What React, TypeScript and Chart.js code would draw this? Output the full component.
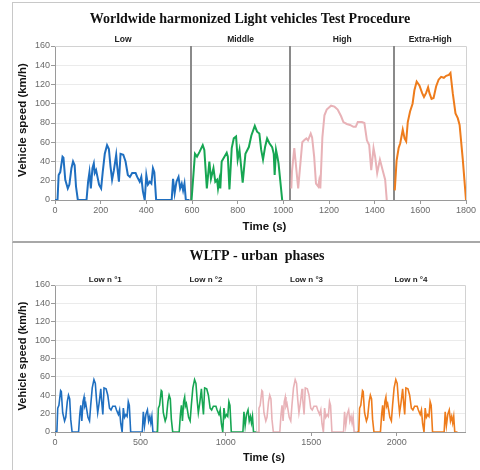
import React, { useEffect, useRef } from "react";
import { Chart, registerables } from "chart.js";

Chart.register(...registerables);

// ---- Data ----
const lowTimes = [0, 11, 16, 23, 33, 37, 45, 56, 63, 72, 79, 86, 92, 100, 138, 145, 151, 157, 164, 170, 174, 180, 186, 193, 202, 209, 218, 228, 236, 243, 250, 258, 268, 272, 280, 287, 299, 309, 319, 328, 338, 353, 360, 371, 378, 385, 393, 400, 407, 415, 422, 429, 435, 443, 511, 517, 524, 532, 541, 548, 555, 561, 567, 573, 589];
const lowSpeeds = [0, 0, 26, 29, 45, 44, 21, 12, 16, 33, 40, 36, 14, 0, 0, 19, 29, 12, 33, 38, 28, 31, 24, 16, 12, 29, 48, 57, 53, 35, 21, 31, 47, 36, 19, 48, 47, 40, 26, 24, 28, 28, 24, 19, 24, 9, 0, 26, 16, 19, 17, 33, 29, 0, 0, 22, 7, 19, 24, 12, 17, 10, 17, 0, 0];

const middleTimes = [598, 613, 622, 633, 647, 654, 665, 676, 683, 694, 702, 710, 714, 720, 724, 730, 742, 752, 757, 764, 774, 783, 793, 800, 808, 822, 834, 849, 860, 875, 885, 895, 903, 911, 920, 929, 939, 951, 958, 962, 968, 974, 979, 995];
const middleSpeeds = [0, 48, 45, 50, 57, 52, 12, 40, 22, 33, 19, 21, 12, 21, 12, 40, 45, 49, 45, 11, 54, 64, 66, 42, 52, 18, 48, 55, 67, 77, 71, 69, 52, 42, 55, 64, 59, 55, 48, 26, 52, 45, 38, 0];

const highTimes = [1035, 1038, 1048, 1065, 1083, 1091, 1101, 1108, 1120, 1126, 1135, 1143, 1153, 1157, 1162, 1171, 1180, 1190, 1209, 1224, 1238, 1253, 1263, 1278, 1292, 1307, 1317, 1326, 1344, 1355, 1366, 1376, 1385, 1395, 1402, 1411, 1423, 1435, 1446, 1453];
const highSpeeds = [12, 30, 54, 12, 60, 62, 64, 62, 69, 65, 45, 17, 14, 20, 12, 65, 88, 94, 98, 97, 94, 87, 81, 79, 78, 76, 76, 81, 81, 80, 62, 57, 31, 54, 45, 28, 42, 31, 21, 0];

const extraHighTimes = [1488, 1496, 1505, 1512, 1523, 1531, 1538, 1545, 1555, 1566, 1574, 1584, 1596, 1608, 1616, 1625, 1634, 1640, 1649, 1658, 1669, 1680, 1691, 1703, 1713, 1725, 1732, 1742, 1754, 1764, 1772, 1786, 1800];
const extraHighSpeeds = [10, 41, 54, 59, 73, 64, 61, 81, 92, 100, 114, 123, 119, 111, 107, 111, 117, 111, 105, 106, 118, 125, 128, 127, 129, 130, 132, 111, 90, 85, 78, 42, 0];

const wltpPhaseLabels = ["Low", "Middle", "High", "Extra-High"];
const wltpBoundaries = [596, 1030, 1486];
const wltpTimeTicks = [0, 200, 400, 600, 800, 1000, 1200, 1400, 1600, 1800];

const urbanPhaseLabels = ["Low n °1", "Low n °2", "Low n °3", "Low n °4"];
const lowPhaseDuration = 589;
const urbanRepeats = [0, 1, 2, 3];
const urbanBoundaries = [589, 1178, 1767];
const urbanTimeTicks = [0, 500, 1000, 1500, 2000];

const speedTicks = [0, 20, 40, 60, 80, 100, 120, 140, 160];

const phaseColors = ["#1f6fc0", "#16a652", "#e8b2b7", "#ee7c1c"];

const SANS = '"Liberation Sans", Arial, sans-serif';
const SERIF = '"Liberation Serif", "Times New Roman", serif';

function toPoints(times: number[], speeds: number[], shift = 0) {
  return times.map((t, i) => ({ x: t + shift, y: speeds[i] }));
}

type PanelOpts = {
  title: string;
  titleX: number;
  titleY: number;
  phaseLabels: string[];
  boundaries: number[];
  phaseLabelY: number;
  phaseFont: number;
  dividerColor: string;
  dividerWidth: number;
  xTitleY: number;
  yTitleX: number;
  yTitleY: number;
  axisTitleFont: number;
};

function panelPlugin(o: PanelOpts) {
  return {
    id: "panelDecor",
    beforeDatasetsDraw(chart: any) {
      const { ctx, chartArea: a } = chart;
      const x = chart.scales.x;
      ctx.save();
      ctx.strokeStyle = "#d2d2d2";
      ctx.lineWidth = 1;
      ctx.beginPath();
      ctx.moveTo(a.left, a.top + 0.5);
      ctx.lineTo(a.right + 0.5, a.top + 0.5);
      ctx.lineTo(a.right + 0.5, a.bottom);
      ctx.stroke();
      ctx.strokeStyle = o.dividerColor;
      ctx.lineWidth = o.dividerWidth;
      for (const b of o.boundaries) {
        const px = Math.round(x.getPixelForValue(b)) + (o.dividerWidth % 2 ? 0.5 : 0);
        ctx.beginPath();
        ctx.moveTo(px, a.top);
        ctx.lineTo(px, a.bottom);
        ctx.stroke();
      }
      ctx.restore();
    },
    afterDraw(chart: any) {
      const { ctx, chartArea: a } = chart;
      const x = chart.scales.x;
      ctx.save();
      ctx.fillStyle = "#111";
      ctx.textAlign = "center";
      ctx.textBaseline = "middle";
      ctx.font = `bold 14px ${SERIF}`;
      ctx.fillText(o.title, o.titleX, o.titleY);

      const edges = [x.min, ...o.boundaries, x.max];
      ctx.font = `bold ${o.phaseFont}px ${SANS}`;
      ctx.fillStyle = "#222";
      o.phaseLabels.forEach((lbl, i) => {
        const cx = (x.getPixelForValue(edges[i]) + x.getPixelForValue(edges[i + 1])) / 2;
        ctx.fillText(lbl, cx, o.phaseLabelY);
      });

      ctx.fillStyle = "#111";
      ctx.font = `bold ${o.axisTitleFont}px ${SANS}`;
      ctx.fillText("Time (s)", (a.left + a.right) / 2 + 4, o.xTitleY);
      ctx.translate(o.yTitleX, o.yTitleY);
      ctx.rotate(-Math.PI / 2);
      ctx.fillText("Vehicle speed (km/h)", 0, 0);
      ctx.restore();
    },
  };
}

function makeConfig(
  datasets: any[],
  xMax: number,
  xTicks: number[],
  padding: any,
  plugin: any
) {
  return {
    type: "line" as const,
    data: { datasets },
    options: {
      responsive: false,
      animation: false as const,
      events: [],
      layout: { padding },
      elements: { point: { radius: 0 }, line: { tension: 0 } },
      plugins: { legend: { display: false }, tooltip: { enabled: false }, title: { display: false } },
      scales: {
        x: {
          type: "linear" as const,
          min: 0,
          max: xMax,
          afterBuildTicks: (s: any) => {
            s.ticks = xTicks.map((v) => ({ value: v }));
          },
          ticks: {
            padding: 1,
            maxRotation: 0,
            autoSkip: false,
            color: "#6a6a6a",
            font: { size: 9, family: SANS },
            callback: (v: any) => String(v),
          },
          grid: { drawOnChartArea: false, tickLength: 4, color: "#9a9a9a" },
          border: { color: "#9a9a9a" },
          afterFit: (s: any) => {
            s.height = 20;
          },
        },
        y: {
          min: 0,
          max: 160,
          afterBuildTicks: (s: any) => {
            s.ticks = speedTicks.map((v) => ({ value: v }));
          },
          ticks: {
            padding: 1,
            color: "#6a6a6a",
            font: { size: 9, family: SANS },
            callback: (v: any) => String(v),
          },
          grid: { color: "#ebebeb", tickLength: 4, tickColor: "#9a9a9a" },
          border: { color: "#9a9a9a" },
          afterFit: (s: any) => {
            s.width = 55;
          },
        },
      },
    },
    plugins: [plugin],
  };
}

function wltpConfig() {
  const phases = [
    [lowTimes, lowSpeeds],
    [middleTimes, middleSpeeds],
    [highTimes, highSpeeds],
    [extraHighTimes, extraHighSpeeds],
  ];
  const datasets = phases.map(([t, v], i) => ({
    label: wltpPhaseLabels[i],
    data: toPoints(t, v),
    borderColor: phaseColors[i],
    borderWidth: 2,
    fill: false,
  }));
  return makeConfig(
    datasets,
    1800,
    wltpTimeTicks,
    { left: 0, top: 46, right: 14, bottom: 22 },
    panelPlugin({
      title: "Worldwide harmonized Light vehicles Test Procedure",
      titleX: 250,
      titleY: 19,
      phaseLabels: wltpPhaseLabels,
      boundaries: wltpBoundaries,
      phaseLabelY: 40,
      phaseFont: 8.5,
      dividerColor: "#8a8a8a",
      dividerWidth: 2,
      xTitleY: 227,
      yTitleX: 23,
      yTitleY: 120,
      axisTitleFont: 11.5,
    })
  );
}

function urbanConfig() {
  const datasets = urbanRepeats.map((k) => ({
    label: urbanPhaseLabels[k],
    data: toPoints(lowTimes, lowSpeeds, k * lowPhaseDuration),
    borderColor: phaseColors[k],
    borderWidth: 1.6,
    fill: false,
  }));
  return makeConfig(
    datasets,
    2400,
    urbanTimeTicks,
    { left: 0, top: 42, right: 15, bottom: 18 },
    panelPlugin({
      title: "WLTP - urban  phases",
      titleX: 257,
      titleY: 13,
      phaseLabels: urbanPhaseLabels,
      boundaries: urbanBoundaries,
      phaseLabelY: 37,
      phaseFont: 8,
      dividerColor: "#d6d6d6",
      dividerWidth: 1,
      xTitleY: 215,
      yTitleX: 23,
      yTitleY: 113,
      axisTitleFont: 11,
    })
  );
}

function PanelCanvas({ make, top, height }: { make: () => any; top: number; height: number }) {
  const ref = useRef<HTMLCanvasElement>(null);
  useEffect(() => {
    const chart = new Chart(ref.current as HTMLCanvasElement, make());
    return () => chart.destroy();
  }, [make]);
  return (
    <canvas
      ref={ref}
      width={480}
      height={height}
      style={{ position: "absolute", left: 0, top, width: 480, height }}
    />
  );
}

export default function App() {
  return (
    <div
      style={{
        position: "fixed",
        left: 0,
        top: 0,
        width: 480,
        height: 470,
        background: "#fff",
        overflow: "hidden",
      }}
    >
      <div
        style={{
          position: "absolute",
          left: 12,
          top: 2,
          width: 480,
          height: 238,
          borderLeft: "1px solid #c8c8c8",
          borderTop: "1px solid #c8c8c8",
          borderBottom: "2px solid #a8a8a8",
        }}
      />
      <div
        style={{
          position: "absolute",
          left: 12,
          top: 243,
          width: 480,
          height: 227,
          borderLeft: "1px solid #c8c8c8",
        }}
      />
      <PanelCanvas make={wltpConfig} top={0} height={242} />
      <PanelCanvas make={urbanConfig} top={243} height={227} />
    </div>
  );
}
